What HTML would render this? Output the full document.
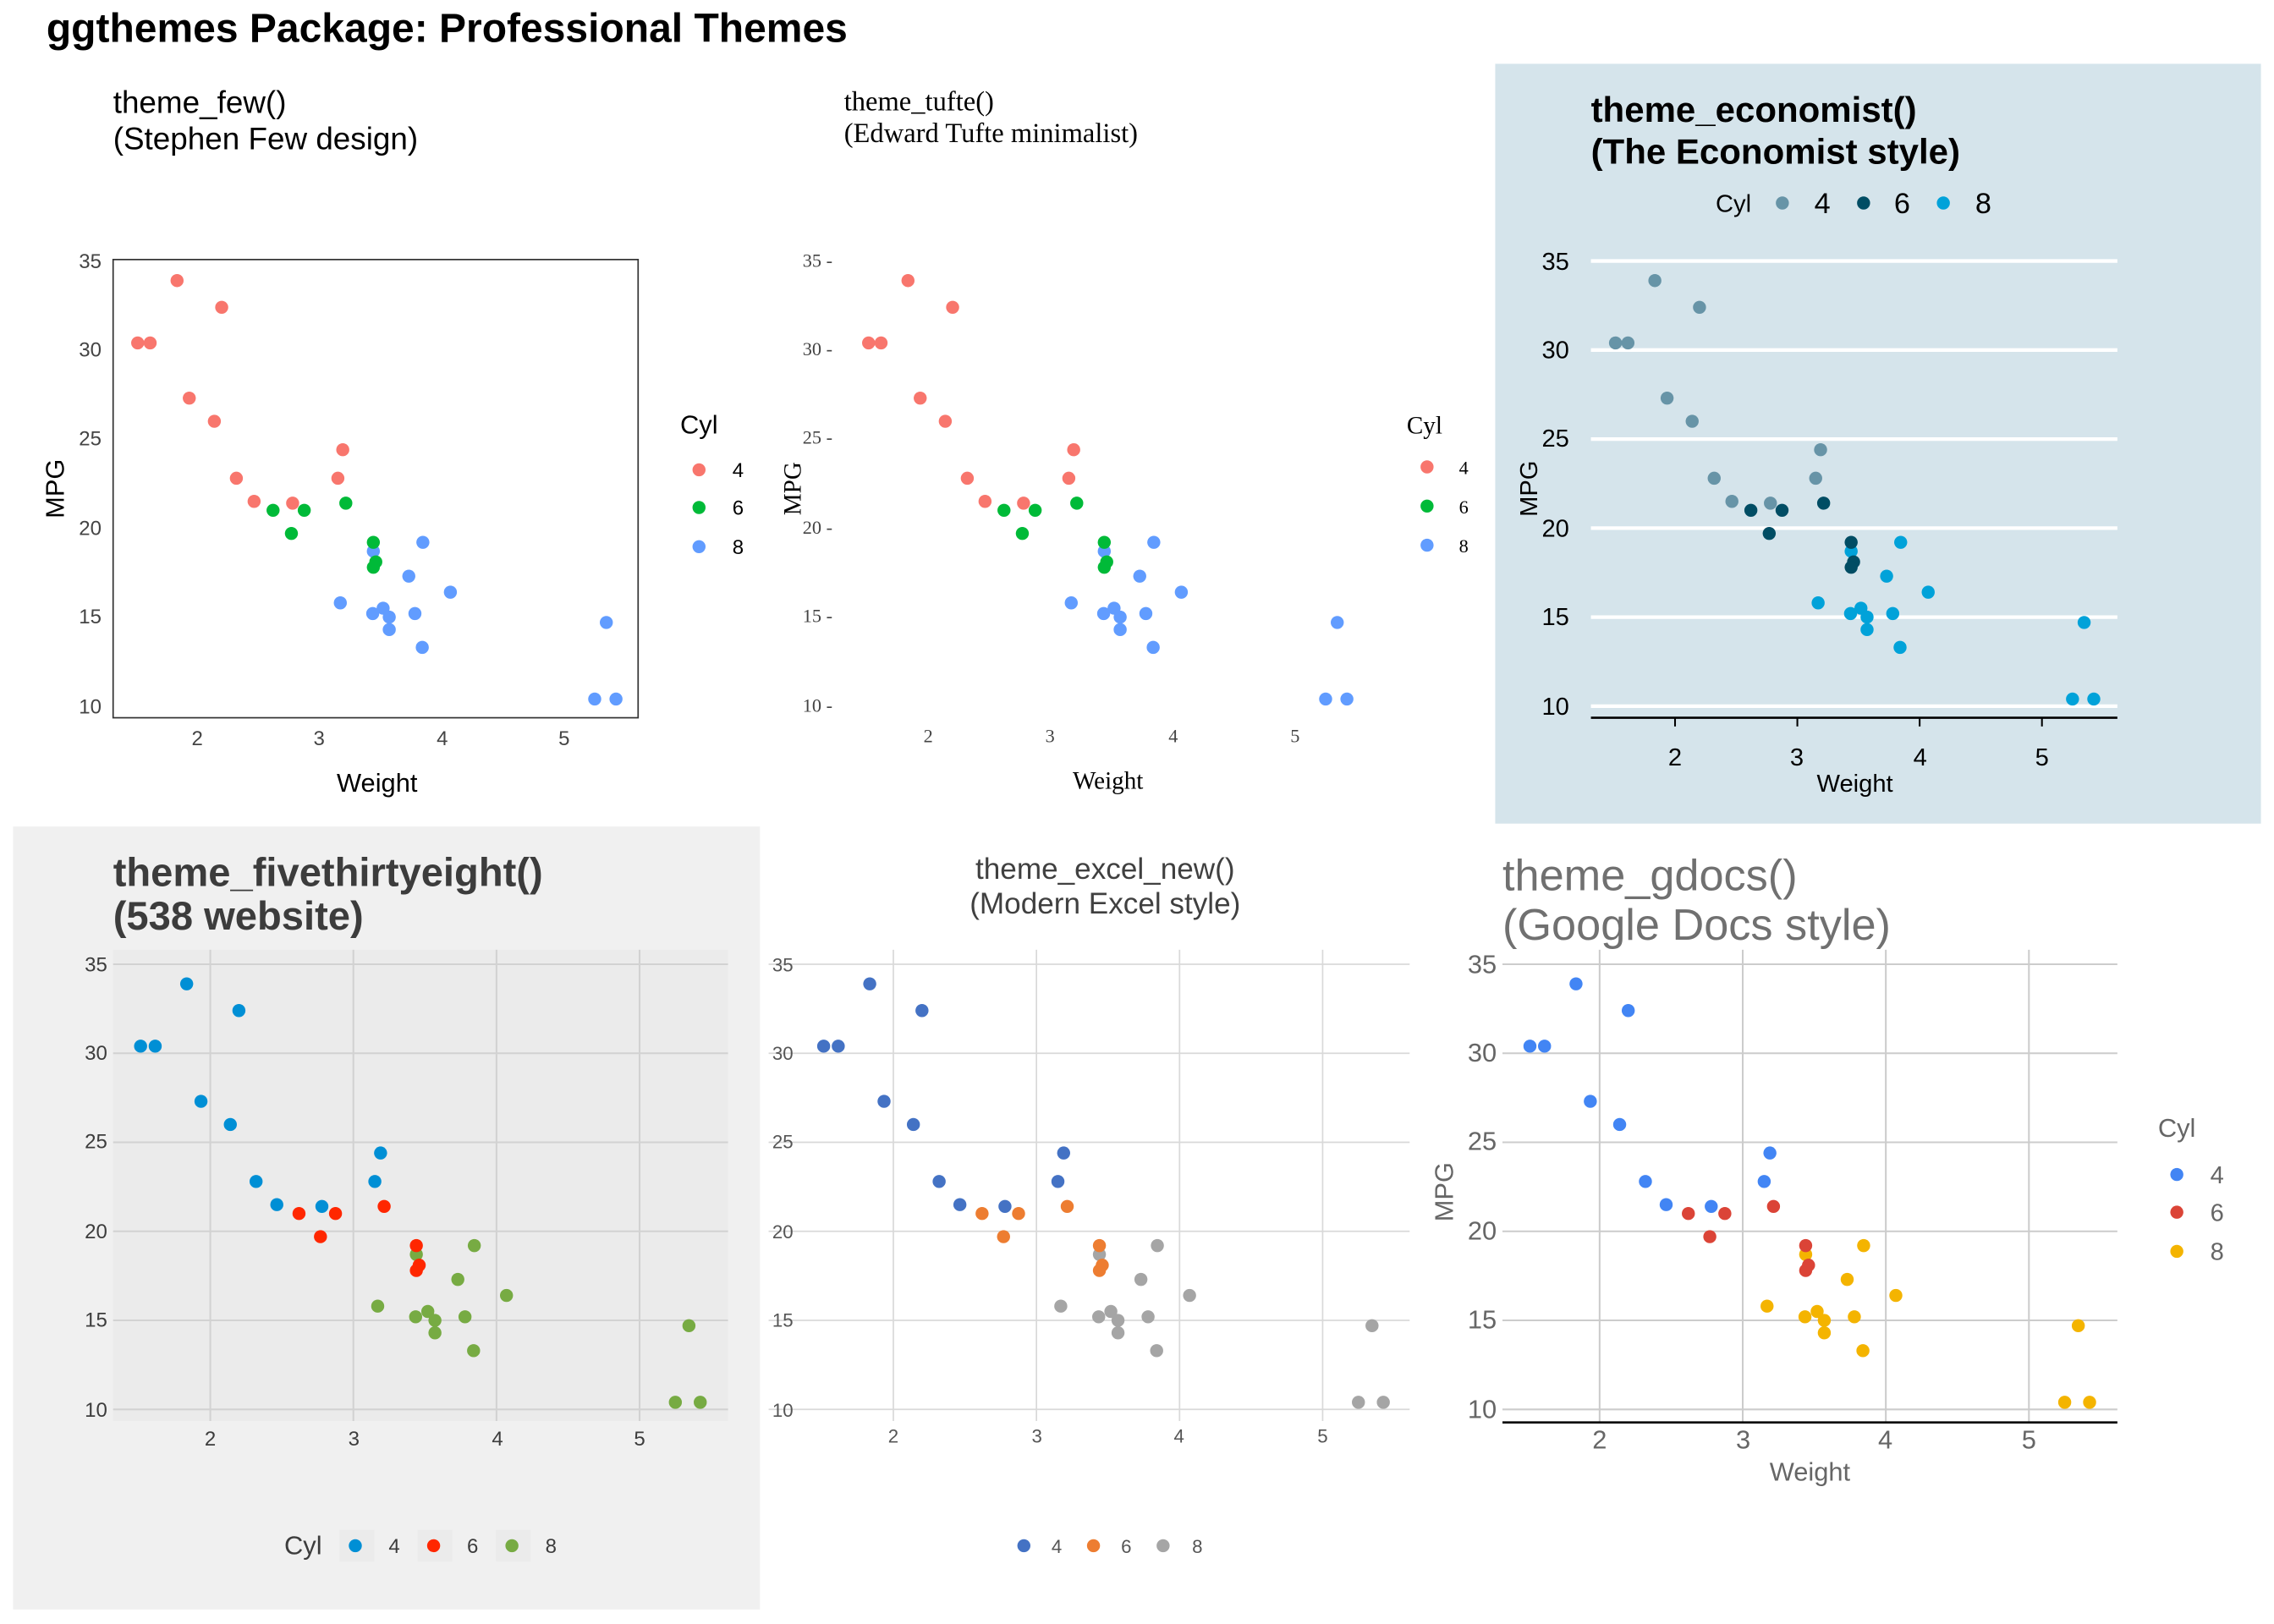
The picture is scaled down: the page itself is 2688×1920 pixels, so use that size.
<!DOCTYPE html>
<html><head><meta charset="utf-8"><style>
html,body{margin:0;padding:0;background:#fff}
svg{display:block}
text{font-family:"Liberation Sans",sans-serif}
.s{font-family:"Liberation Serif",serif}
</style></head><body>
<svg id="c" width="2688" height="1920" viewBox="0 0 1568 1120" xmlns="http://www.w3.org/2000/svg">
<rect width="1568" height="1120" fill="#fff"/>
<rect x="1031" y="44" width="528" height="524" fill="#d5e4eb"/>
<rect x="9" y="570" width="515" height="540" fill="#f0f0f0"/>
<rect x="78" y="655" width="424" height="325" fill="#ebebeb"/>
<g id="grid"></g>
<text x="32" y="29" font-size="28" font-weight="bold">ggthemes Package: Professional Themes</text>

<!-- Panel 1 -->
<text x="78" y="78" font-size="21.5">theme_few()</text>
<text x="78" y="103" font-size="21.5">(Stephen Few design)</text>
<rect x="78" y="179" width="362" height="316" fill="none" stroke="#333" stroke-width="1"/>
<g font-size="14" fill="#444" text-anchor="end">
<text x="70" y="185">35</text><text x="70" y="246">30</text><text x="70" y="307">25</text><text x="70" y="369">20</text><text x="70" y="430">15</text><text x="70" y="492">10</text></g>
<g font-size="14" fill="#444" text-anchor="middle">
<text x="136" y="514">2</text><text x="220" y="514">3</text><text x="305" y="514">4</text><text x="389" y="514">5</text></g>
<text x="260" y="546" font-size="18" text-anchor="middle">Weight</text>
<text transform="translate(44,337) rotate(-90)" font-size="18" text-anchor="middle">MPG</text>
<text x="469" y="299" font-size="18">Cyl</text>
<g font-size="14"><text x="505" y="329">4</text><text x="505" y="355">6</text><text x="505" y="382">8</text></g>
<circle cx="482" cy="324" r="4.5" fill="#F8766D"/><circle cx="482" cy="350" r="4.5" fill="#00BA38"/><circle cx="482" cy="377" r="4.5" fill="#619CFF"/>

<!-- Panel 2 -->
<text class="s" x="582" y="76" font-size="19">theme_tufte()</text>
<text class="s" x="582" y="98" font-size="19">(Edward Tufte minimalist)</text>
<g class="s" font-size="13" fill="#444" text-anchor="end">
<text class="s" x="574" y="184">35 -</text><text class="s" x="574" y="245">30 -</text><text class="s" x="574" y="306">25 -</text><text class="s" x="574" y="368">20 -</text><text class="s" x="574" y="429">15 -</text><text class="s" x="574" y="491">10 -</text></g>
<g font-size="13" fill="#444" text-anchor="middle">
<text class="s" x="640" y="512">2</text><text class="s" x="724" y="512">3</text><text class="s" x="809" y="512">4</text><text class="s" x="893" y="512">5</text></g>
<text class="s" x="764" y="544" font-size="17" text-anchor="middle">Weight</text>
<text class="s" transform="translate(552,337) rotate(-90)" font-size="17" text-anchor="middle">MPG</text>
<text class="s" x="970" y="299" font-size="17">Cyl</text>
<g font-size="13"><text class="s" x="1006" y="327">4</text><text class="s" x="1006" y="354">6</text><text class="s" x="1006" y="381">8</text></g>
<circle cx="984" cy="322" r="4.5" fill="#F8766D"/><circle cx="984" cy="349" r="4.5" fill="#00BA38"/><circle cx="984" cy="376" r="4.5" fill="#619CFF"/>

<!-- Panel 3 -->
<text x="1097" y="84" font-size="24.5" font-weight="bold">theme_economist()</text>
<text x="1097" y="113" font-size="24.5" font-weight="bold">(The Economist style)</text>
<text x="1183" y="146" font-size="17">Cyl</text>
<g font-size="20"><text x="1251" y="147">4</text><text x="1306" y="147">6</text><text x="1362" y="147">8</text></g>
<circle cx="1229" cy="140" r="4.5" fill="#6794a7"/><circle cx="1285" cy="140" r="4.5" fill="#014d64"/><circle cx="1340" cy="140" r="4.5" fill="#01a2d9"/>
<line x1="1097" y1="495" x2="1460" y2="495" stroke="#000" stroke-width="1.5"/>
<g font-size="17" text-anchor="end">
<text x="1082" y="186">35</text><text x="1082" y="247">30</text><text x="1082" y="308">25</text><text x="1082" y="370">20</text><text x="1082" y="431">15</text><text x="1082" y="493">10</text></g>
<g font-size="17" text-anchor="middle">
<text x="1155" y="528">2</text><text x="1239" y="528">3</text><text x="1324" y="528">4</text><text x="1408" y="528">5</text></g>
<text x="1279" y="546" font-size="17" text-anchor="middle">Weight</text>
<text transform="translate(1060,337) rotate(-90)" font-size="17" text-anchor="middle">MPG</text>

<!-- Panel 4 -->
<text x="78" y="611" font-size="27.5" font-weight="bold" fill="#3c3c3c">theme_fivethirtyeight()</text>
<text x="78" y="641" font-size="27.5" font-weight="bold" fill="#3c3c3c">(538 website)</text>
<g font-size="14" fill="#3c3c3c" text-anchor="end">
<text x="74" y="670">35</text><text x="74" y="731">30</text><text x="74" y="792">25</text><text x="74" y="854">20</text><text x="74" y="915">15</text><text x="74" y="977">10</text></g>
<g font-size="14" fill="#3c3c3c" text-anchor="middle">
<text x="145" y="997">2</text><text x="244" y="997">3</text><text x="343" y="997">4</text><text x="441" y="997">5</text></g>
<text x="196" y="1072" font-size="18" fill="#3c3c3c">Cyl</text>
<rect x="234" y="1055" width="24" height="22" fill="#ebebeb"/><rect x="288" y="1055" width="24" height="22" fill="#ebebeb"/><rect x="342" y="1055" width="24" height="22" fill="#ebebeb"/>
<circle cx="245" cy="1066" r="4.5" fill="#008fd5"/><circle cx="299" cy="1066" r="4.5" fill="#ff2700"/><circle cx="353" cy="1066" r="4.5" fill="#77ab43"/>
<g font-size="14" fill="#3c3c3c"><text x="268" y="1071">4</text><text x="322" y="1071">6</text><text x="376" y="1071">8</text></g>

<!-- Panel 5 -->
<text x="762" y="606" font-size="20.5" fill="#404040" text-anchor="middle">theme_excel_new()</text>
<text x="762" y="630" font-size="20.5" fill="#404040" text-anchor="middle">(Modern Excel style)</text>
<g font-size="13" fill="#555" text-anchor="end">
<text x="547" y="670">35</text><text x="547" y="731">30</text><text x="547" y="792">25</text><text x="547" y="854">20</text><text x="547" y="915">15</text><text x="547" y="977">10</text></g>
<g font-size="13" fill="#555" text-anchor="middle">
<text x="616" y="995">2</text><text x="715" y="995">3</text><text x="813" y="995">4</text><text x="912" y="995">5</text></g>
<circle cx="706" cy="1066" r="4.5" fill="#4472C4"/><circle cx="754" cy="1066" r="4.5" fill="#ED7D31"/><circle cx="802" cy="1066" r="4.5" fill="#A5A5A5"/>
<g font-size="13" fill="#555"><text x="725" y="1071">4</text><text x="773" y="1071">6</text><text x="822" y="1071">8</text></g>

<!-- Panel 6 -->
<text x="1036" y="614" font-size="30.5" fill="#707070">theme_gdocs()</text>
<text x="1036" y="648" font-size="30.5" fill="#707070">(Google Docs style)</text>
<line x1="1036" y1="981" x2="1460" y2="981" stroke="#000" stroke-width="1.5"/>
<g font-size="18" fill="#666" text-anchor="end">
<text x="1032" y="671">35</text><text x="1032" y="732">30</text><text x="1032" y="793">25</text><text x="1032" y="855">20</text><text x="1032" y="916">15</text><text x="1032" y="978">10</text></g>
<g font-size="18" fill="#666" text-anchor="middle">
<text x="1103" y="999">2</text><text x="1202" y="999">3</text><text x="1300" y="999">4</text><text x="1399" y="999">5</text></g>
<text x="1248" y="1021" font-size="18" fill="#666" text-anchor="middle">Weight</text>
<text transform="translate(1002,822) rotate(-90)" font-size="18" fill="#666" text-anchor="middle">MPG</text>
<text x="1488" y="784" font-size="18" fill="#666">Cyl</text>
<circle cx="1501" cy="810" r="4.5" fill="#4285F4"/><circle cx="1501" cy="836" r="4.5" fill="#DB4437"/><circle cx="1501" cy="863" r="4.5" fill="#F4B400"/>
<g font-size="17" fill="#666"><text x="1524" y="816">4</text><text x="1524" y="842">6</text><text x="1524" y="869">8</text></g>
<g id="pts"></g>
</svg>
<script>
var d=[[2.62,21,6],[2.875,21,6],[2.32,22.8,4],[3.215,21.4,6],[3.44,18.7,8],[3.46,18.1,6],[3.57,14.3,8],[3.19,24.4,4],[3.15,22.8,4],[3.44,19.2,6],[3.44,17.8,6],[4.07,16.4,8],[3.73,17.3,8],[3.78,15.2,8],[5.25,10.4,8],[5.424,10.4,8],[5.345,14.7,8],[2.2,32.4,4],[1.615,30.4,4],[1.835,33.9,4],[2.465,21.5,4],[3.52,15.5,8],[3.435,15.2,8],[3.84,13.3,8],[3.845,19.2,8],[1.935,27.3,4],[2.14,26,4],[1.513,30.4,4],[3.17,15.8,8],[2.77,19.7,6],[3.57,15,8],[2.78,21.4,4]];
var NS="http://www.w3.org/2000/svg";
function el(p,t,a){var e=document.createElementNS(NS,t);for(var k in a)e.setAttribute(k,a[k]);p.appendChild(e);return e;}
var P=[
 {x2:136,xs:84.33,y35:180,c:{4:"#F8766D",6:"#00BA38",8:"#619CFF"}},
 {x2:640,xs:84.33,y35:180,c:{4:"#F8766D",6:"#00BA38",8:"#619CFF"}},
 {x2:1155,xs:84.33,y35:180,c:{4:"#6794a7",6:"#014d64",8:"#01a2d9"},g:{x1:1097,x2:1460,col:"#fff",w:2.5,h:1},tk:495},
 {x2:145,xs:98.67,y35:665,c:{4:"#008fd5",6:"#ff2700",8:"#77ab43"},g:{x1:78,x2:502,y1:655,y2:980,col:"#d2d2d2",w:1.2,h:1,v:1}},
 {x2:616,xs:98.67,y35:665,c:{4:"#4472C4",6:"#ED7D31",8:"#A5A5A5"},g:{x1:530,x2:972,y1:655,y2:980,col:"#d9d9d9",w:1,h:1,v:1}},
 {x2:1103,xs:98.67,y35:665,c:{4:"#4285F4",6:"#DB4437",8:"#F4B400"},g:{x1:1036,x2:1460,y1:655,y2:981,col:"#cccccc",w:1.2,h:1,v:1}}
];
var G=document.getElementById("grid"),Q=document.getElementById("pts");
P.forEach(function(p){
 var ys=12.28;
 if(p.g){var g=p.g;
  for(var m=10;m<=35;m+=5){var y=p.y35+(35-m)*ys;el(G,"line",{x1:g.x1,x2:g.x2,y1:y,y2:y,stroke:g.col,"stroke-width":g.w});}
  if(g.v)for(var w=2;w<=5;w++){var x=p.x2+(w-2)*p.xs;el(G,"line",{x1:x,x2:x,y1:g.y1,y2:g.y2,stroke:g.col,"stroke-width":g.w});}
 }
 if(p.tk)for(var w=2;w<=5;w++){var x=p.x2+(w-2)*p.xs;el(G,"line",{x1:x,x2:x,y1:p.tk,y2:p.tk+6,stroke:"#000","stroke-width":1.2});}
 d.forEach(function(r){el(Q,"circle",{cx:p.x2+(r[0]-2)*p.xs,cy:p.y35+(35-r[1])*ys,r:4.5,fill:p.c[r[2]]});});
});
</script>
</body></html>
